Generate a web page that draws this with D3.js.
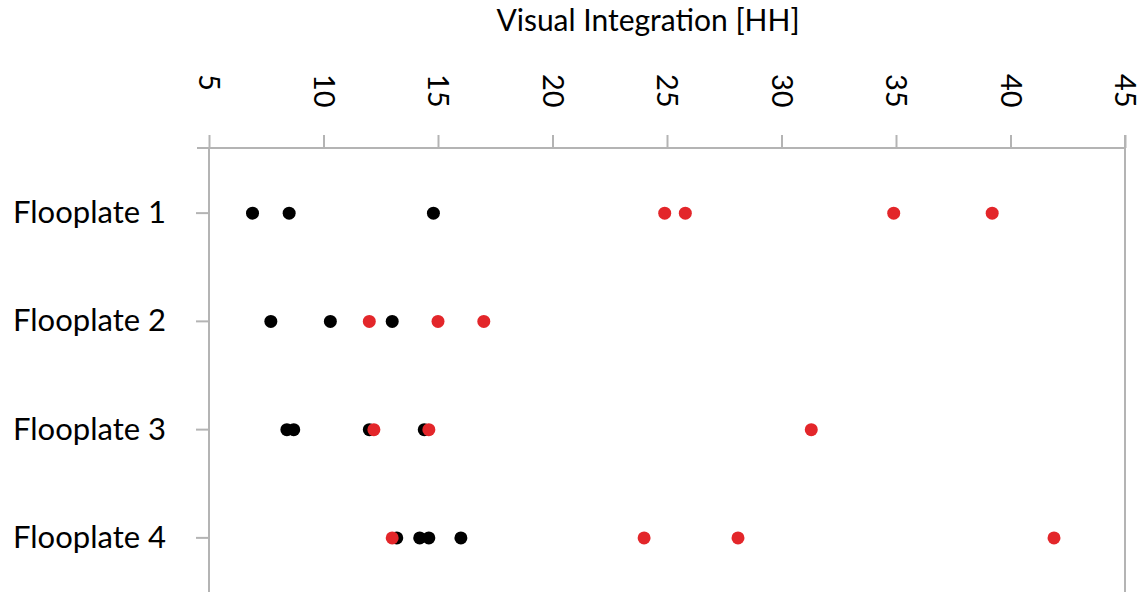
<!DOCTYPE html>
<html>
<head>
<meta charset="utf-8">
<script src="https://cdn.jsdelivr.net/npm/d3@7"></script>
<style>
  html, body { margin: 0; padding: 0; background: #fff; }
  svg { display: block; }
  text { font-family: Lato, "Open Sans", sans-serif; fill: #000; }
</style>
</head>
<body>
<svg id="chart" width="1147" height="592"></svg>
<script>
// ---- data ----
const categories = ["Flooplate 1", "Flooplate 2", "Flooplate 3", "Flooplate 4"];
const xTicks = [5, 10, 15, 20, 25, 30, 35, 40, 45];
const axisTitle = "Visual Integration [HH]";
// black series values per floorplate
const blackValues = [
  [6.9, 8.5, 14.8],
  [7.7, 10.3, 13.0],
  [8.4, 8.7, 12.0, 14.4],
  [13.2, 14.2, 14.6, 16.0]
];
// red series values per floorplate
const redValues = [
  [24.9, 25.8, 34.9, 39.2],
  [12.0, 15.0, 17.0],
  [12.2, 14.6, 31.3],
  [13.0, 24.0, 28.1, 41.9]
];

// ---- layout ----
const svg = d3.select("#chart");
const left = 209, right = 1125, axisY = 148, bottom = 592;
const gray = "#b4b4b4";

const x = d3.scaleLinear().domain([5, 45]).range([left, right]);
const y = d3.scaleBand().domain(categories).range([159, 592]).padding(0);
const yc = c => y(c) + y.bandwidth() / 2;

// title
svg.append("text")
  .attr("x", 648).attr("y", 31)
  .attr("text-anchor", "middle")
  .style("font-size", "30px")
  .text(axisTitle);

// top axis
const xAxis = d3.axisTop(x).tickValues(xTicks).tickSize(13).tickPadding(0);
const gx = svg.append("g").attr("transform", `translate(0,${axisY})`).call(xAxis);
gx.select(".domain").remove();
gx.append("line").attr("x1", left - 12).attr("x2", right).attr("y1", 0).attr("y2", 0)
  .attr("stroke", gray).attr("stroke-width", 2);
gx.selectAll(".tick line").attr("stroke", gray).attr("stroke-width", 2);
gx.selectAll(".tick text")
  .attr("transform", "translate(0,-74) rotate(90)")
  .attr("x", 0).attr("y", 0).attr("dy", "0.36em")
  .attr("text-anchor", "start")
  .style("font-size", "29px")
  .style("fill", "#000");

// left axis
const yAxis = d3.axisLeft(y).tickSize(13).tickPadding(28);
const gy = svg.append("g").attr("transform", `translate(${left},0)`).call(yAxis);
gy.select(".domain").remove();
gy.append("line").attr("x1", 0).attr("x2", 0).attr("y1", axisY).attr("y2", bottom)
  .attr("stroke", gray).attr("stroke-width", 2);
gy.selectAll(".tick line").attr("stroke", gray).attr("stroke-width", 2);
gy.selectAll(".tick text").style("font-size", "31px").style("fill", "#000")
  .attr("text-anchor", "end").attr("x", -43);

// right border
svg.append("line").attr("x1", right).attr("x2", right).attr("y1", axisY - 13).attr("y2", bottom)
  .attr("stroke", gray).attr("stroke-width", 2);

// points: black first, red on top
const blackPts = blackValues.flatMap((arr, i) => arr.map(v => ({ c: categories[i], v })));
const redPts = redValues.flatMap((arr, i) => arr.map(v => ({ c: categories[i], v })));

svg.append("g").selectAll("circle").data(blackPts).join("circle")
  .attr("cx", d => x(d.v)).attr("cy", d => yc(d.c)).attr("r", 6.5)
  .attr("fill", "#000");
svg.append("g").selectAll("circle").data(redPts).join("circle")
  .attr("cx", d => x(d.v)).attr("cy", d => yc(d.c)).attr("r", 6.5)
  .attr("fill", "#e3262a");
</script>
</body>
</html>
